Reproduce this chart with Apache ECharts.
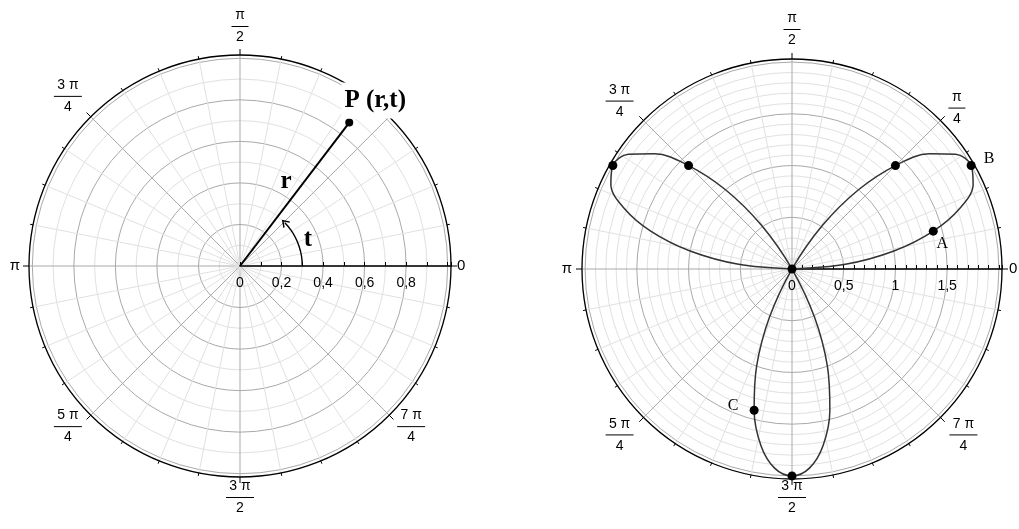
<!DOCTYPE html>
<html><head><meta charset="utf-8">
<script src="https://cdn.jsdelivr.net/npm/echarts@6/dist/echarts.min.js"></script>
<style>html,body{margin:0;padding:0;background:#fff}#c{width:1019px;height:529px}</style>
</head><body><div id="c"></div>
<script>
// ---------------- DATA ----------------
// angle axis tick labels (values in degrees, shown as fractions of pi)
const angleTickValues = [0, 45, 90, 135, 180, 225, 270, 315];
const angleTickNumerators = ['0', 'π', 'π', '3 π', 'π', '5 π', '3 π', '7 π'];
const angleTickDenominators = ['', '4', '2', '4', '', '4', '2', '4'];
// radial tick labels
const leftRadiusLabels = [0, 0.2, 0.4, 0.6, 0.8];
const rightRadiusLabels = [0, 0.5, 1, 1.5];
// left chart: point P (r, t) and construction
const pointP = [0.868, 52.7];                 // [r, t in degrees]
const segmentR = [0, 0.868];
const segmentA = [52.7, 52.7];
const arcAngles = [0, 9, 18, 27, 36, 44];
const arcRadius = [0.3, 0.3, 0.3, 0.3, 0.3, 0.3];
const annotationText = ['r', 't'];
const annotationR = [0.465, 0.35];
const annotationA = [61.6, 21];
// right chart: three-leaved rose (r per angle)
const petalAngles1 = [0, 5, 10, 15, 20, 25, 30, 35, 40, 45, 50, 55, 60];
const petalAngles2 = [240, 245, 250, 255, 260, 265, 270, 275, 280, 285, 290, 295, 300];
const petalAngles3 = [120, 125, 130, 135, 140, 145, 150, 155, 160, 165, 170, 175, 180];
const petalRadius = [0, 0.518, 1, 1.414, 1.732, 1.932, 2, 1.932, 1.732, 1.414, 1, 0.518, 0];
// marked points on the rose
const markedR = [0, 1.414, 2, 1.414, 1.414, 2, 1.414, 2];
const markedA = [0, 15, 30, 45, 135, 150, 255, 270];
const markedNames = ['', 'A', 'B', '', '', '', 'C', ''];

// ---------------- STYLE ----------------
const FONT = 'Liberation Sans';
const SERIF = 'Liberation Serif';
const markedLabelOffsets = { A: [9, 13], B: [18, -7], C: [-21, -4] };
// per-label placement tweaks (px): l/r = horizontal spacer, up/down = vertical spacer
const leftLabelAdjust = { 0: {l: 16}, 90: {up: 20}, 135: {r: 16, up: 9}, 180: {r: 19},
  225: {r: 16}, 270: {down: 12}, 315: {l: 15} };
const rightLabelAdjust = { 0: {l: 17}, 45: {l: 15, up: 1}, 90: {up: 21}, 135: {r: 17, up: 8},
  180: {r: 20}, 225: {r: 17, down: 6}, 270: {down: 10}, 315: {l: 16, down: 6} };

const FS = 14;
const RICH = {
  z: {fontSize: 15, fontFamily: FONT, color: '#000'},
  wn: {width: 28, align: 'center', fontSize: FS, lineHeight: 15, fontFamily: FONT, color: '#000'},
  wb: {width: 28, height: 1, lineHeight: 7, fontSize: 1, backgroundColor: '#000'},
  wd: {width: 28, align: 'center', fontSize: FS, lineHeight: 15, fontFamily: FONT, color: '#000'},
  nn: {width: 17, align: 'center', fontSize: FS, lineHeight: 15, fontFamily: FONT, color: '#000'},
  nb: {width: 17, height: 1, lineHeight: 7, fontSize: 1, backgroundColor: '#000'},
  nd: {width: 17, align: 'center', fontSize: FS, lineHeight: 15, fontFamily: FONT, color: '#000'}
};
function sp(w) { const k = 's' + w; RICH[k] = {width: w, height: 1, lineHeight: 1, fontSize: 1}; return '{' + k + '| }'; }
function vs(h) { const k = 'v' + h; RICH[k] = {width: 1, height: h, lineHeight: h, fontSize: 1}; return '{' + k + '| }'; }

function angleFormatter(adj, skip) {
  return function (value) {
    const v = Math.round(value);
    if (v >= 360 || skip.indexOf(v) >= 0) return '';
    const i = angleTickValues.indexOf(v);
    if (i < 0) return '';
    const a = adj[v] || {};
    const L = a.l ? sp(a.l) : '', R = a.r ? sp(a.r) : '';
    const num = angleTickNumerators[i], den = angleTickDenominators[i];
    if (!den) return L + '{z|' + num + '}' + R;
    const w = num.length > 1 ? 'w' : 'n';
    let s = '';
    if (a.down) s += vs(a.down) + '\n';
    s += L + '{' + w + 'n|' + num + '}' + R + '\n' + L + '{' + w + 'b| }' + R + '\n' + L + '{' + w + 'd|' + den + '}' + R;
    if (a.up) s += '\n' + vs(a.up);
    return s;
  };
}
// pre-register spacer styles
[leftLabelAdjust, rightLabelAdjust].forEach(function (adj) {
  Object.keys(adj).forEach(function (k) {
    const a = adj[k];
    if (a.l) sp(a.l); if (a.r) sp(a.r); if (a.up) vs(a.up); if (a.down) vs(a.down);
  });
});

function radiusFormatter(list) {
  return function (v) {
    const hit = list.find(function (x) { return Math.abs(x - v) < 1e-6; });
    return hit === undefined ? '' : String(hit).replace('.', ',');
  };
}

function makeAngleAxis(polarIndex, adj, skip) {
  return {
    polarIndex: polarIndex, type: 'value', min: 0, max: 360, interval: 45,
    startAngle: 0, clockwise: false,
    axisLine: {show: true, lineStyle: {color: '#000', width: 1.3}},
    axisTick: {show: true, length: 6, lineStyle: {color: '#000', width: 1}},
    minorTick: {show: true, splitNumber: 4, length: 3, lineStyle: {color: '#000', width: 1}},
    splitLine: {show: true, lineStyle: {color: '#a9a9a9', width: 1}},
    minorSplitLine: {show: true, lineStyle: {color: '#e1e1e1', width: 1}},
    axisLabel: {show: true, margin: -10, color: '#000', fontFamily: FONT, fontSize: FS,
      formatter: angleFormatter(adj, skip), rich: RICH}
  };
}
function makeRadiusAxis(polarIndex, max, colors, labels) {
  return {
    polarIndex: polarIndex, type: 'value', min: 0, max: max, interval: 0.1,
    axisLine: {show: true, lineStyle: {color: '#000', width: 1.5}},
    axisTick: {show: true, inside: true, length: 4, lineStyle: {color: '#000', width: 1}},
    axisLabel: {show: true, margin: -10, verticalAlign: 'top', color: '#000',
      fontFamily: FONT, fontSize: 14, formatter: radiusFormatter(labels)},
    splitLine: {show: true, lineStyle: {color: colors, width: 1}},
    minorSplitLine: {show: false}
  };
}

function zip(rs, as) { return rs.map(function (r, i) { return [r, as[i]]; }); }

const arcData = zip(arcRadius, arcAngles).map(function (p, i, arr) {
  if (i === arr.length - 1) {
    return {value: p, symbol: 'path://M-5,6 L0,0 L5,6', symbolSize: [8, 6], symbolRotate: 44,
      itemStyle: {color: 'none', borderColor: '#000', borderWidth: 1.3, opacity: 1}};
  }
  return {value: p, symbol: 'none'};
});

const roseData = zip(petalRadius, petalAngles1)
  .concat(zip(petalRadius, petalAngles2))
  .concat(zip(petalRadius, petalAngles3));

const markedData = markedR.map(function (r, i) {
  const name = markedNames[i];
  const item = {value: [r, markedA[i]], name: name};
  if (name) {
    item.label = {show: true, formatter: name, position: 'inside', offset: markedLabelOffsets[name],
      fontFamily: SERIF, fontSize: 16, color: '#000', opacity: 1};
  }
  return item;
});

const option = {
  animation: false,
  backgroundColor: '#fff',
  polar: [
    {center: [240, 266], radius: 211},
    {center: [792, 269], radius: 210}
  ],
  angleAxis: [
    makeAngleAxis(0, leftLabelAdjust, [45]),
    makeAngleAxis(1, rightLabelAdjust, [])
  ],
  radiusAxis: [
    makeRadiusAxis(0, 1.016, ['#a9a9a9', '#e1e1e1'], leftRadiusLabels),
    makeRadiusAxis(1, 2.03, ['#a9a9a9', '#e1e1e1', '#e1e1e1', '#e1e1e1', '#e1e1e1'], rightRadiusLabels)
  ],
  series: [
    {type: 'line', coordinateSystem: 'polar', polarIndex: 0, data: zip(segmentR, segmentA),
      symbol: 'none', lineStyle: {color: '#000', width: 2}, z: 3},
    {type: 'line', coordinateSystem: 'polar', polarIndex: 0, data: arcData, smooth: true,
      showSymbol: true, symbol: 'none', lineStyle: {color: '#000', width: 1.4}, z: 3},
    {type: 'scatter', coordinateSystem: 'polar', polarIndex: 0, data: [pointP], symbolSize: 8,
      itemStyle: {color: '#000', opacity: 1}, z: 4,
      label: {show: true, formatter: 'P (r,t)', position: 'inside', offset: [26, -22],
        fontFamily: SERIF, fontWeight: 'bold', fontSize: 25, lineHeight: 22, color: '#000', opacity: 1,
        backgroundColor: '#fff', padding: [7, 3]}},
    {type: 'scatter', coordinateSystem: 'polar', polarIndex: 0,
      data: annotationR.map(function (r, i) { return {value: [r, annotationA[i]], name: annotationText[i]}; }),
      symbolSize: 1, itemStyle: {color: 'rgba(0,0,0,0)'}, z: 4,
      label: {show: true, formatter: '{b}', position: 'inside', fontFamily: SERIF,
        fontWeight: 'bold', fontSize: 25, color: '#000', opacity: 1}},
    {type: 'line', coordinateSystem: 'polar', polarIndex: 1, data: roseData, smooth: 0.35,
      symbol: 'none', lineStyle: {color: '#333', width: 1.5}, z: 3},
    {type: 'scatter', coordinateSystem: 'polar', polarIndex: 1, data: markedData, symbolSize: 9,
      itemStyle: {color: '#000', opacity: 1}, z: 4, label: {show: false}}
  ]
};

const chart = echarts.init(document.getElementById('c'));
chart.setOption(option);
</script>
</body></html>
